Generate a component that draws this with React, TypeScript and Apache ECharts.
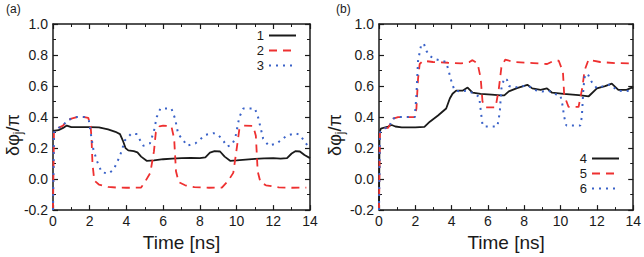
import React, { useEffect, useRef } from "react";
import * as echarts from "echarts";

type Pt = [number, number];

const xTicks = { min: 0, max: 14, interval: 2 };
const yTicks = { min: -0.2, max: 1.0, interval: 0.2 };

const legendA = ["1", "2", "3"];
const legendB = ["4", "5", "6"];

const curve1: Pt[] = [[0,0.31],[0.3,0.315],[0.55,0.33],[0.75,0.345],[1.0,0.335],[1.5,0.335],[2.0,0.335],[2.5,0.333],[3.0,0.32],[3.4,0.305],[3.65,0.29],[3.8,0.25],[3.95,0.2],[4.1,0.185],[4.4,0.18],[4.6,0.172],[4.8,0.145],[5.1,0.118],[5.5,0.12],[6.0,0.128],[6.5,0.132],[7.0,0.135],[7.5,0.137],[8.0,0.135],[8.3,0.14],[8.55,0.17],[8.8,0.18],[9.1,0.178],[9.35,0.145],[9.65,0.118],[10.0,0.12],[10.5,0.125],[11.0,0.13],[11.5,0.133],[12.0,0.135],[12.4,0.132],[12.75,0.135],[13.0,0.165],[13.2,0.18],[13.45,0.178],[13.7,0.155],[14,0.135]];

const curve2: Pt[] = [[0,-0.2],[0.05,0.3],[0.3,0.33],[0.55,0.345],[0.75,0.375],[1.0,0.39],[1.3,0.4],[1.7,0.4],[1.92,0.395],[2.05,0.34],[2.1,0.26],[2.15,0.1],[2.25,-0.01],[2.5,-0.035],[3.0,-0.05],[3.5,-0.055],[4.0,-0.056],[4.8,-0.055],[5.05,-0.01],[5.3,0.04],[5.5,0.18],[5.6,0.3],[5.8,0.34],[6.0,0.345],[6.45,0.34],[6.6,0.26],[6.7,0.05],[6.85,-0.02],[7.2,-0.04],[7.7,-0.052],[8.5,-0.056],[9.2,-0.055],[9.55,-0.01],[9.82,0.04],[10.0,0.19],[10.15,0.32],[10.4,0.345],[10.9,0.343],[11.05,0.28],[11.15,0.05],[11.3,-0.02],[11.6,-0.04],[12.3,-0.054],[13.0,-0.056],[13.8,-0.055]];

const curve3: Pt[] = [[0,-0.2],[0.05,0.3],[0.3,0.33],[0.55,0.345],[0.75,0.375],[1.0,0.39],[1.3,0.4],[1.7,0.4],[1.95,0.38],[2.05,0.3],[2.2,0.19],[2.4,0.115],[2.65,0.045],[3.0,0.035],[3.3,0.06],[3.65,0.15],[3.92,0.25],[4.28,0.295],[4.55,0.29],[4.92,0.215],[5.28,0.23],[5.5,0.31],[5.65,0.4],[5.85,0.455],[6.45,0.455],[6.65,0.39],[6.82,0.29],[7.1,0.25],[7.3,0.215],[7.75,0.23],[8.3,0.285],[8.75,0.296],[9.0,0.285],[9.3,0.243],[9.48,0.21],[9.73,0.22],[9.92,0.26],[10.15,0.4],[10.37,0.455],[11.0,0.455],[11.18,0.395],[11.45,0.26],[11.75,0.215],[12.2,0.23],[12.73,0.28],[13.2,0.296],[13.45,0.285],[13.9,0.21],[14,0.2]];

const curve4: Pt[] = [[0,-0.2],[0.03,0.3],[0.1,0.325],[0.5,0.339],[0.7,0.349],[0.9,0.339],[1.25,0.334],[2.0,0.334],[2.5,0.336],[2.8,0.37],[3.25,0.41],[3.7,0.455],[3.9,0.52],[4.05,0.55],[4.25,0.57],[4.6,0.57],[4.88,0.59],[5.15,0.557],[5.6,0.55],[6.2,0.545],[6.7,0.54],[6.9,0.54],[7.15,0.566],[7.6,0.587],[8.17,0.608],[8.44,0.585],[8.9,0.575],[9.25,0.585],[9.53,0.557],[10.17,0.55],[11.0,0.542],[11.55,0.534],[12.0,0.585],[12.45,0.6],[12.82,0.615],[13.18,0.575],[13.64,0.575],[13.92,0.59],[14,0.585]];

const curve5: Pt[] = [[0,-0.2],[0.05,0.3],[0.3,0.328],[0.5,0.33],[0.6,0.35],[0.78,0.39],[1.05,0.4],[1.97,0.4],[2.06,0.455],[2.15,0.646],[2.24,0.742],[2.42,0.763],[2.97,0.755],[3.8,0.75],[4.52,0.746],[4.98,0.755],[5.15,0.767],[5.43,0.746],[5.6,0.65],[5.7,0.5],[5.87,0.462],[6.42,0.462],[6.6,0.583],[6.74,0.72],[6.95,0.77],[7.44,0.755],[8.5,0.748],[9.26,0.742],[9.62,0.763],[9.9,0.763],[10.13,0.69],[10.2,0.54],[10.44,0.465],[10.99,0.465],[11.2,0.59],[11.32,0.7],[11.54,0.77],[12.18,0.755],[13.0,0.748],[13.92,0.746]];

const curve6: Pt[] = [[0,-0.2],[0.05,0.3],[0.3,0.328],[0.5,0.33],[0.6,0.35],[0.78,0.39],[1.05,0.4],[1.97,0.4],[2.06,0.54],[2.15,0.763],[2.33,0.87],[2.48,0.87],[2.61,0.827],[2.79,0.795],[3.06,0.774],[3.43,0.763],[3.7,0.755],[3.88,0.678],[4.0,0.625],[4.16,0.572],[4.45,0.565],[4.88,0.57],[5.25,0.55],[5.52,0.53],[5.6,0.445],[5.7,0.35],[5.78,0.339],[6.52,0.339],[6.65,0.43],[6.74,0.583],[6.89,0.65],[7.05,0.64],[7.16,0.6],[7.44,0.59],[7.98,0.6],[8.25,0.6],[8.53,0.575],[8.98,0.565],[9.35,0.57],[9.62,0.55],[9.99,0.54],[10.1,0.48],[10.2,0.4],[10.32,0.345],[11.08,0.345],[11.17,0.4],[11.26,0.59],[11.35,0.678],[11.54,0.668],[11.72,0.625],[12.0,0.585],[12.36,0.6],[12.73,0.61],[13.09,0.575],[13.45,0.565],[13.82,0.57],[14,0.57]];

const INK = "#1a1a1a";
const RED = "#ee3030";
const BLUE = "#3a62c8";
const FONT = "Liberation Sans, Arial, sans-serif";

function xAxisPair(grid: number) {
  const base = {
    type: "value",
    gridIndex: grid,
    ...xTicks,
    splitLine: { show: false },
    axisLine: { show: true, onZero: false, lineStyle: { color: INK, width: 1.5 } },
    axisTick: { show: true, inside: true, length: 5, lineStyle: { color: INK, width: 1.2 } },
    minorTick: { show: true, splitNumber: 2, length: 3, lineStyle: { color: INK, width: 1 } },
    minorSplitLine: { show: false },
  };
  return [
    {
      ...base,
      position: "bottom",
      name: "Time [ns]",
      nameLocation: "middle",
      nameGap: 20,
      nameTextStyle: { fontSize: 19, color: INK, fontFamily: FONT },
      axisLabel: { fontSize: 14, color: INK, margin: 4, fontFamily: FONT },
    },
    { ...base, position: "top", axisLabel: { show: false } },
  ];
}

function yAxisPair(grid: number) {
  const base = {
    type: "value",
    gridIndex: grid,
    ...yTicks,
    splitLine: { show: false },
    axisLine: { show: true, onZero: false, lineStyle: { color: INK, width: 1.5 } },
    axisTick: { show: true, inside: true, length: 5, lineStyle: { color: INK, width: 1.2 } },
    minorTick: { show: true, splitNumber: 2, length: 3, lineStyle: { color: INK, width: 1 } },
    minorSplitLine: { show: false },
  };
  return [
    {
      ...base,
      position: "left",
      axisLabel: {
        fontSize: 14,
        color: INK,
        margin: 5,
        fontFamily: FONT,
        formatter: (v: number) => (Math.abs(v) < 1e-9 ? 0 : v).toFixed(1),
      },
    },
    { ...base, position: "right", axisLabel: { show: false } },
  ];
}

function solid(name: string, data: Pt[], ax: number) {
  return {
    type: "line", name, data, xAxisIndex: ax, yAxisIndex: ax, symbol: "none", showSymbol: false,
    lineStyle: { color: INK, width: 1.8 }, itemStyle: { color: INK },
  };
}
function dashed(name: string, data: Pt[], ax: number) {
  return {
    type: "line", name, data, xAxisIndex: ax, yAxisIndex: ax, symbol: "none", showSymbol: false,
    lineStyle: { color: RED, width: 1.8, type: [8, 6] }, itemStyle: { color: RED },
  };
}
function dotted(name: string, data: Pt[], ax: number) {
  return {
    type: "line", name, data, xAxisIndex: ax, yAxisIndex: ax, symbol: "none", showSymbol: false,
    lineStyle: { color: BLUE, width: 2, type: [2, 5] }, itemStyle: { color: BLUE },
  };
}

function yTitle(x: number, y: number) {
  return {
    type: "text",
    x, y,
    rotation: Math.PI / 2,
    style: {
      text: "{a|δφ}{s|j}{a|/π}",
      align: "center",
      verticalAlign: "middle",
      fill: INK,
      rich: {
        a: { fontSize: 18, fontFamily: FONT, fill: INK, lineHeight: 22 },
        s: { fontSize: 12, fontFamily: FONT, fill: INK, lineHeight: 22, verticalAlign: "bottom", padding: [8, 0, 0, 0] },
      },
    },
  };
}

export default function App() {
  const ref = useRef<HTMLDivElement>(null);
  useEffect(() => {
    document.body.style.margin = "0";
    if (!ref.current) return;
    const chart = echarts.init(ref.current, undefined, { renderer: "svg" });
    const legendCommon = {
      orient: "vertical",
      align: "right",
      itemWidth: 27,
      itemHeight: 12,
      itemGap: 2,
      padding: 0,
      itemStyle: { opacity: 0, borderWidth: 0 },
      textStyle: { fontSize: 13, lineHeight: 12, color: INK, fontFamily: FONT },
    };
    chart.setOption({
      animation: false,
      backgroundColor: "#ffffff",
      textStyle: { fontFamily: FONT },
      grid: [
        { left: 53, top: 24, width: 257, height: 189 },
        { left: 379, top: 24, width: 256, height: 189 },
      ],
      xAxis: [...xAxisPair(0), ...xAxisPair(1)],
      yAxis: [...yAxisPair(0), ...yAxisPair(1)],
      legend: [
        { ...legendCommon, data: legendA, right: 347, top: 29 },
        { ...legendCommon, data: legendB, right: 24, top: 152 },
      ],
      graphic: [
        { type: "text", left: 6, top: 3, style: { text: "(a)", fontSize: 12, fill: INK, fontFamily: FONT } },
        { type: "text", left: 336, top: 3, style: { text: "(b)", fontSize: 12, fill: INK, fontFamily: FONT } },
        yTitle(13, 135),
        yTitle(335, 135),
      ],
      series: [
        solid("1", curve1, 0),
        dashed("2", curve2, 0),
        dotted("3", curve3, 0),
        solid("4", curve4, 2),
        dashed("5", curve5, 2),
        dotted("6", curve6, 2),
      ],
    });
    return () => chart.dispose();
  }, []);
  return <div ref={ref} style={{ width: 644, height: 257 }} />;
}
